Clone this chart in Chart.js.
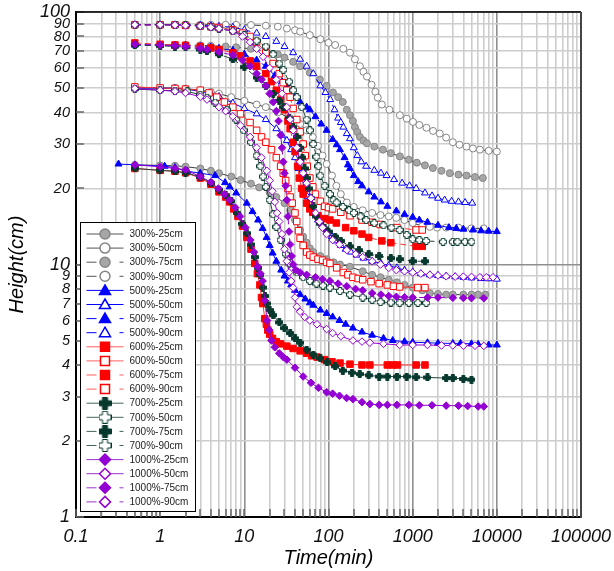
<!DOCTYPE html>
<html lang="en">
<head>
<meta charset="UTF-8">
<title>Height vs Time</title>
<script src="https://cdn.jsdelivr.net/npm/chart.js"></script>
<style>
  html, body { margin: 0; padding: 0; background: #fff; }
  #wrap { width: 614px; height: 571px; }
</style>
</head>
<body>
<div id="wrap"><canvas id="settleChart" width="614" height="571"></canvas></div>
<script>
// each series: [time (min), height (cm)]
const s300_25 = [[0.5,24.8],[1,24.7],[1.5,24.6],[2,24.4],[3,24],[4,23.5],[5,23],[7,22.3],[9,21.6],[12,20.9],[15,20.2],[20,19.3],[24,18.5],[30,17.5],[35,16.4],[40,15],[46,13.7],[50,12.9],[55,12.2],[60,11.6],[66,11.2],[80,10.8],[95,10.5],[115,10.2],[137,10],[180,9.8],[255,9.4],[330,9.1],[415,8.9],[520,8.7],[650,8.5],[800,8.3],[1000,8.1],[1300,7.9],[1600,7.7],[2000,7.65],[2500,7.6],[3000,7.6],[4000,7.6],[5000,7.6],[6000,7.6],[7300,7.6]];
const s300_50 = [[0.5,50],[1,50],[1.5,50],[2,49.7],[3,49],[4,48.3],[5,47.5],[7,46],[10,44.5],[14,43],[18,42],[25,40],[35,38],[46,36],[55,34],[65,32],[75,29.5],[85,27],[95,25],[110,22.5],[124,20.5],[140,19],[165,17.6],[200,16.9],[255,16.4],[330,16],[415,15.7],[520,15.5],[640,15.3],[800,15],[1000,14.6],[1300,14.2],[1600,14.1],[1950,14],[2500,14],[3500,14],[5000,13.9],[7000,13.9]];
const s300_75 = [[0.5,74],[1,74],[1.5,74],[2,74],[3,73.8],[4,73.5],[6,73],[8,72.5],[12,71.5],[18,70],[25,68],[30,66],[38,63.5],[46,61],[60,57.5],[79,54],[95,51],[113,48],[130,46],[148,44],[165,41],[180,39],[195,37],[206,35],[220,33.5],[236,32],[260,31],[286,30.2],[350,29.3],[443,28.5],[550,27.6],[705,26.8],[900,26],[1120,25.3],[1400,24.7],[1740,24.1],[2200,23.5],[2760,23],[3500,22.7],[4370,22.5],[5500,22.2],[6820,22]];
const s300_90 = [[0.5,89],[1,89],[1.5,89],[2,89],[3,89],[4,89],[6,89],[8,89],[12,88.8],[18,88.3],[25,87.5],[32,86],[40,84.7],[46,83.6],[60,81],[80,78],[100,75.5],[120,74],[150,71.5],[180,69],[206,65],[236,61],[260,58],[286,55.5],[325,51.5],[360,48.3],[385,45.8],[430,43],[530,41],[705,39],[850,37.8],[1010,36.7],[1200,35.7],[1460,34.8],[1750,33.8],[2100,33],[2500,31.8],[3000,30.5],[3600,29.8],[4370,29.3],[5200,28.8],[6300,28.5],[8000,28.2],[10000,28]];

const s500_25 = [[0.32,25],[0.5,24.8],[1.13,24.5],[1.5,24.2],[2.1,23.4],[3,23],[4.5,22.5],[5.9,21.1],[6.7,20.3],[8,19.2],[10.7,17.5],[12.5,16.2],[14.6,15],[16.5,13.9],[18.4,12.8],[20,11.9],[21.7,11.1],[24,10.3],[27.4,9.5],[30,9],[33,8.6],[36,8.3],[40,7.9],[46,7.6],[53,7.3],[60,7.05],[66,6.9],[80,6.6],[95,6.4],[112,6.2],[135,6],[160,5.8],[195,5.6],[250,5.4],[330,5.25],[450,5.1],[580,5],[800,4.95],[1000,4.92],[1500,4.9],[2000,4.88],[3000,4.87],[3700,4.87],[5000,4.85],[6000,4.83],[8000,4.8],[10000,4.8]];
const s500_50 = [[0.5,50],[1,50],[1.5,49.8],[2,49.5],[3,48.5],[4,47.5],[5,46.3],[7.3,43.6],[10,41.5],[14,39.5],[18,37.5],[24,34.5],[28,32.5],[32,31],[36,28.5],[40,26.5],[44,24],[48,22],[52,20.3],[56,18.6],[60,17.5],[67,16.2],[75,15],[85,14.2],[95,13.5],[110,12.9],[124,12.4],[140,11.9],[160,11.5],[185,11.2],[215,10.9],[260,10.6],[330,10.3],[420,10.1],[520,9.9],[650,9.7],[800,9.5],[1000,9.35],[1250,9.2],[1600,9.1],[2000,9.05],[2500,9],[3200,8.95],[4000,8.9],[5000,8.85],[6500,8.8],[8000,8.78],[10000,8.75]];
const s500_75 = [[0.5,74],[1,74],[1.5,74],[2,73.8],[3,73],[4,72.5],[5,71.8],[7.3,70.5],[10,68],[14,64.5],[18,61],[23,56],[28,53],[32,50.5],[38,47],[46,44],[55,42],[60,41],[70,38.5],[82,36],[95,34],[112,31.3],[125,29.8],[137,28.5],[155,26.5],[170,24.8],[180,24],[200,22.5],[225,21.3],[250,20.5],[300,19.4],[350,18.5],[420,17.7],[500,17],[640,16.3],[800,15.8],[1000,15.4],[1200,15],[1500,14.7],[2000,14.3],[2700,14],[3300,13.9],[4000,13.8],[5200,13.7],[6500,13.6],[8000,13.55],[10000,13.5]];
const s500_90 = [[0.5,89],[1,89],[1.5,89],[2,88.8],[3,88.5],[4,88.2],[5,87.8],[7.3,87],[10,85],[14,82.5],[18,80],[24,76.5],[30,73],[38,69],[46,65],[55,61],[66,57],[80,51],[92,48],[105,45],[118,41],[130,38],[140,36.5],[150,35],[165,33],[180,31.5],[200,29],[220,27],[245,25.5],[280,24.5],[350,23.6],[420,23],[490,22.5],[600,21.7],[750,21],[920,20.5],[1100,20],[1400,19.2],[1700,18.7],[2000,18.3],[2400,18],[2900,17.8],[3500,17.7],[4200,17.6],[5100,17.5]];

const s600_25 = [[0.5,24],[1,23.6],[1.5,23.4],[2,23.1],[3,22],[4,20.8],[5,19.4],[6,18.5],[6.7,17.7],[7.5,16.6],[8.4,15.5],[9.5,14.2],[10.7,12.8],[12,11.5],[13.3,10.1],[14.3,9.2],[15.3,8.3],[16,7.4],[16.6,7],[17.5,6.1],[18.3,5.8],[19,5.5],[20,5.3],[21.6,5.1],[24,4.95],[27,4.85],[32,4.75],[38,4.65],[46,4.55],[55,4.45],[63,4.35],[73,4.3],[90,4.2],[110,4.12],[137,4.07],[180,4.03],[250,4],[310,4],[500,4],[580,4],[660,4],[1100,4],[1400,4]];
const s600_50 = [[0.5,50.5],[1,50],[1.5,49.8],[2,49.5],[3,49],[3.8,47.8],[4.7,46],[5.8,44],[7.3,42],[9,39.5],[11.7,36.5],[14,34],[16,32],[18,30.5],[21,28.5],[24,26.5],[27,24.5],[29,23],[31,21.5],[33,20],[35,18.5],[37,17.5],[40,16],[42,14.8],[44,13.6],[46,12.7],[50,11.9],[55,11.2],[60,10.9],[66,10.7],[75,10.5],[85,10.4],[95,10.2],[104,10.1],[125,9.7],[150,9.3],[170,9.1],[195,8.9],[225,8.8],[255,8.7],[320,8.55],[400,8.4],[500,8.3],[590,8.2],[700,8.15],[1150,8.1],[1400,8.1]];
const s600_75 = [[0.5,75.4],[1,74.5],[1.5,74],[2,73.8],[3,73],[4,72],[5,71],[7.3,69],[9,67],[11.7,64],[14,61],[18,57],[21,53],[24,49],[27,45],[30,41],[33,37],[35,34.5],[38,30.5],[40,28],[43,24.5],[45,22],[48,20],[50,19],[55,17.5],[60,16.6],[65,16.1],[75,15.6],[90,15.2],[104,15],[124,14.6],[160,14],[200,13.6],[250,13.2],[300,12.8],[430,12.4],[550,12.2],[1100,11.8],[1300,11.8]];
const s600_90 = [[0.5,89],[1,89],[1.5,89],[2,88.5],[3,88],[4,87.5],[5,86.8],[7.3,85],[9.5,82.5],[11.7,80],[14,76],[18,69],[22,62.5],[26,57],[29,52.5],[32,49],[35,46],[38,41.5],[42,37.5],[46,33.5],[50,30],[53,27],[56,24.5],[60,22],[65,20.3],[70,19],[80,17.8],[90,17],[100,16.8],[112,16.6],[140,16.1],[180,15.6],[250,15],[330,14.7],[410,14.4],[650,14],[1100,13.7],[1300,13.7]];

const s700_25 = [[0.5,24],[1,23.6],[1.5,23.4],[2,23.1],[3,22.2],[4,21],[5,19.8],[6,18.8],[7,17.8],[8.1,16],[9.5,14.5],[10.7,13.3],[12,12],[13.3,10.7],[14.5,9.7],[15.5,9.1],[16.6,8.1],[17.6,7.5],[18.5,7],[20,6.6],[22,6.3],[26,5.9],[30,5.6],[35,5.35],[40,5.1],[46,4.9],[55,4.6],[66,4.4],[80,4.25],[96,4.1],[120,3.95],[148,3.8],[190,3.73],[235,3.68],[300,3.64],[400,3.6],[500,3.6],[650,3.6],[850,3.6],[1100,3.58],[1500,3.57],[2500,3.55],[3000,3.55],[4000,3.52],[5000,3.5]];
const s700_50 = [[0.5,49.5],[1,49],[1.5,48.8],[2.1,48.5],[3,47],[3.6,45.8],[4.5,43.8],[6.2,41],[8,37.5],[9.8,34],[12,30.5],[14,27],[15.5,24.5],[16.7,22.3],[18,20.3],[20,18],[22,15.8],[24,14.1],[27,12.5],[31,11],[34,10.1],[37,9.6],[42,9.3],[50,8.9],[60,8.6],[72,8.4],[86,8.25],[104,8.1],[137,7.85],[180,7.6],[255,7.4],[330,7.25],[415,7.1],[550,7.07],[700,7.05],[900,7.05],[1150,7.05],[1450,7.05]];
const s700_75 = [[0.5,74],[1,73.5],[1.5,73],[2,72.5],[3,71],[3.6,70],[5,68],[7.3,65],[10,60.5],[14,55],[18,51],[22,47.5],[26,44.5],[29,42],[34,38],[38,35],[42,32],[46,29],[49,26.5],[52,24],[55,22],[58,20],[62,18.3],[66,17],[72,15.5],[80,14.5],[90,13.9],[100,13.5],[120,12.9],[140,12.4],[180,11.8],[230,11.4],[300,11],[400,10.8],[550,10.6],[700,10.5],[1000,10.3],[1400,10.3]];
const s700_90 = [[0.5,89],[1,89],[1.5,89],[2,88.6],[3,88],[4,87],[5,86],[7.3,84],[10,81],[14,77],[18,73],[22,68],[26,62.5],[29,59],[34,53],[38,49],[42,46],[48,42],[55,37.5],[60,34],[66,30],[72,26.7],[76,24.5],[80,22.5],[90,20.5],[104,19],[115,18],[125,17.6],[148,16.9],[175,16.4],[200,16],[240,15.5],[280,15],[350,14.6],[450,14.3],[560,14],[700,13.7],[850,13.1],[1000,12.6],[1200,12.5],[1450,12.4],[2300,12.3],[3000,12.3],[3400,12.3],[4200,12.3],[5000,12.3]];

const s1000_25 = [[0.5,24.8],[1,24.4],[1.5,24],[2,23.7],[3,22.3],[4,21.2],[4.9,20],[5.8,19],[6.7,18],[7.8,16.8],[8.9,15.5],[10.3,14],[11.8,12.5],[13,11.2],[14.4,9.8],[15.5,9.2],[16.5,8.6],[17.5,7.2],[18.6,6],[19.8,5.5],[21,5],[23,4.7],[26,4.45],[29,4.3],[32,4.2],[40,3.9],[50,3.6],[62,3.4],[76,3.25],[95,3.12],[112,3.08],[135,3.02],[164,2.96],[195,2.93],[250,2.85],[310,2.8],[400,2.78],[500,2.78],[650,2.78],[900,2.78],[1200,2.77],[1700,2.77],[2500,2.76],[3500,2.76],[4500,2.75],[6000,2.74],[7000,2.74]];
const s1000_50 = [[0.5,49.8],[1,49],[1.5,48.5],[2,47.8],[3,46.2],[3.6,45],[5,42],[6,40.5],[7.3,38.6],[9,35.5],[11.7,32],[14,29],[16,26.5],[18.5,23.5],[20,21.5],[21.5,19.5],[23,17.7],[24.5,16],[26,14.8],[28,13.2],[30,11.5],[32,10.3],[34,9.3],[36,8.6],[38,8.1],[40,7.4],[42,6.8],[46,6.5],[52,6.2],[60,6],[73,5.8],[95,5.55],[112,5.35],[140,5.2],[195,5],[250,4.95],[310,4.9],[450,4.85],[700,4.8],[1000,4.8],[1500,4.8],[2200,4.78],[3000,4.78],[4000,4.77],[5500,4.77],[7000,4.76]];
const s1000_75 = [[0.5,74.5],[1,74],[1.5,73.5],[2,73],[3,71.8],[3.6,71],[5,69.5],[7.3,67.5],[9.5,64.5],[11.7,61],[14,57],[16,54],[18,51],[20,47.5],[22,44],[24,40.5],[25.5,37],[27,32.5],[28,29],[29,25.5],[30,23],[31,20.5],[32,18],[33,15.5],[34,13.5],[35,12],[36.5,10.8],[38,10],[41,9.5],[46,9.3],[55,9.1],[70,8.9],[85,8.75],[104,8.6],[130,8.4],[165,8.2],[210,8],[255,7.9],[330,7.7],[420,7.6],[520,7.5],[640,7.45],[800,7.42],[1000,7.4],[1500,7.4],[2000,7.4],[3000,7.38],[4000,7.37],[5000,7.36],[7000,7.35]];
const s1000_90 = [[0.5,89],[1,89],[1.5,88.8],[2,88.5],[3,88],[4,87],[5,86],[7.3,84],[9.5,80],[11.7,76],[14,71.5],[16.7,66.5],[20,60],[24,54],[28,47.5],[32,42],[35,37.5],[38,34],[42,29],[46,25.5],[50,23],[55,21],[62,18.3],[70,16],[78,14.8],[85,14],[95,13.2],[112,12.5],[135,12],[165,11.4],[210,11],[255,10.7],[330,10.3],[415,10],[520,9.7],[640,9.5],[800,9.4],[1000,9.3],[1250,9.2],[1600,9.1],[2000,9.05],[2500,8.98],[3200,8.95],[4000,8.95],[5000,8.93],[6300,8.9],[7500,8.9],[9000,8.9]];

const xDecades = [0.1, 1, 10, 100, 1000, 10000, 100000];
const yTicks = [1, 2, 3, 4, 5, 6, 7, 8, 9, 10, 20, 30, 40, 50, 60, 70, 80, 90, 100];

const FONT = "'Liberation Sans', Arial, sans-serif";

// look per concentration
const styles = {
  '300':  { shape: 'circle',   radius: 3.5, fill: '#a6a6a6', edge: '#858585', line: '#3a3a3a', key: '#555555' },
  '500':  { shape: 'triangle', radius: 4,   fill: '#0000ff', edge: '#0000ff', line: '#0000ff', key: '#0000ff' },
  '600':  { shape: 'rect',     radius: 4.6, fill: '#ff0000', edge: '#ff0000', line: '#ff3030', key: '#ff6060' },
  '700':  { shape: 'plus',     radius: 3.5, fill: '#06382d', edge: '#06382d', line: '#24443e', key: '#46635e' },
  '1000': { shape: 'rectRot',  radius: 3.8, fill: '#9400d3', edge: '#9400d3', line: '#9400d3', key: '#9933cc' }
};

const series = [
  { label: '300%-25cm',  conc: '300',  data: s300_25,  open: false, dashed: false },
  { label: '300%-50cm',  conc: '300',  data: s300_50,  open: true,  dashed: false },
  { label: '300%-75cm',  conc: '300',  data: s300_75,  open: false, dashed: true },
  { label: '300%-90cm',  conc: '300',  data: s300_90,  open: true,  dashed: true },
  { label: '500%-25cm',  conc: '500',  data: s500_25,  open: false, dashed: false },
  { label: '500%-50cm',  conc: '500',  data: s500_50,  open: true,  dashed: false },
  { label: '500%-75cm',  conc: '500',  data: s500_75,  open: false, dashed: true },
  { label: '500%-90cm',  conc: '500',  data: s500_90,  open: true,  dashed: true },
  { label: '600%-25cm',  conc: '600',  data: s600_25,  open: false, dashed: false },
  { label: '600%-50cm',  conc: '600',  data: s600_50,  open: true,  dashed: false },
  { label: '600%-75cm',  conc: '600',  data: s600_75,  open: false, dashed: true },
  { label: '600%-90cm',  conc: '600',  data: s600_90,  open: true,  dashed: true },
  { label: '700%-25cm',  conc: '700',  data: s700_25,  open: false, dashed: false },
  { label: '700%-50cm',  conc: '700',  data: s700_50,  open: true,  dashed: false },
  { label: '700%-75cm',  conc: '700',  data: s700_75,  open: false, dashed: true },
  { label: '700%-90cm',  conc: '700',  data: s700_90,  open: true,  dashed: true },
  { label: '1000%-25cm', conc: '1000', data: s1000_25, open: false, dashed: false },
  { label: '1000%-50cm', conc: '1000', data: s1000_50, open: true,  dashed: false },
  { label: '1000%-75cm', conc: '1000', data: s1000_75, open: false, dashed: true },
  { label: '1000%-90cm', conc: '1000', data: s1000_90, open: true,  dashed: true }
];

// thick plus marker (no built-in one), drawn once onto a small canvas
function plusImage(size, arm, fill, edge) {
  const c = document.createElement('canvas');
  c.width = size; c.height = size;
  const g = c.getContext('2d');
  const m = size / 2, h = arm / 2, e = size / 2 - 0.5;
  g.beginPath();
  g.moveTo(m - h, m - e); g.lineTo(m + h, m - e); g.lineTo(m + h, m - h); g.lineTo(m + e, m - h);
  g.lineTo(m + e, m + h); g.lineTo(m + h, m + h); g.lineTo(m + h, m + e); g.lineTo(m - h, m + e);
  g.lineTo(m - h, m + h); g.lineTo(m - e, m + h); g.lineTo(m - e, m - h); g.lineTo(m - h, m - h);
  g.closePath();
  g.fillStyle = fill; g.fill();
  g.strokeStyle = edge; g.lineWidth = 1; g.stroke();
  return c;
}
const plusFilled = plusImage(8, 3, styles['700'].fill, styles['700'].edge);
const plusOpen = plusImage(8, 3.4, '#ffffff', styles['700'].edge);
const plusFilledBig = plusImage(13, 5, styles['700'].fill, styles['700'].edge);
const plusOpenBig = plusImage(13, 5, '#ffffff', styles['700'].edge);

const isDecade = v => Math.abs(Math.log10(v) - Math.round(Math.log10(v))) < 1e-6;

const xTicks = [];
xDecades.forEach((d, i) => {
  xTicks.push(d);
  if (i < xDecades.length - 1) {
    for (let k = 2; k <= 9; k++) xTicks.push(parseFloat((d * k).toPrecision(6)));
  }
});

const datasets = series.map((s, i) => {
  const st = styles[s.conc];
  let ps = st.shape;
  if (st.shape === 'plus') ps = s.open ? plusOpen : plusFilled;
  return {
    label: s.label,
    data: s.data.map(p => ({ x: p[0], y: p[1] })),
    showLine: true,
    borderColor: st.line,
    borderWidth: 1,
    borderDash: s.dashed ? [6, 4] : [],
    pointStyle: ps,
    pointRadius: st.radius,
    pointBackgroundColor: s.open ? '#ffffff' : st.fill,
    pointBorderColor: st.edge,
    pointBorderWidth: 1,
    order: -i
  };
});

function keyMarker(ctx, s, x, y) {
  const st = styles[s.conc];
  if (st.shape === 'plus') {
    const img = s.open ? plusOpenBig : plusFilledBig;
    ctx.drawImage(img, x - img.width / 2, y - img.height / 2);
    return;
  }
  const r = 5;
  ctx.beginPath();
  if (st.shape === 'circle') {
    ctx.arc(x, y, r, 0, Math.PI * 2);
  } else if (st.shape === 'triangle') {
    ctx.moveTo(x, y - r - 0.5); ctx.lineTo(x + r + 0.5, y + r * 0.8); ctx.lineTo(x - r - 0.5, y + r * 0.8);
    ctx.closePath();
  } else if (st.shape === 'rect') {
    ctx.rect(x - r + 0.5, y - r + 0.5, 2 * r - 1, 2 * r - 1);
  } else {
    ctx.moveTo(x, y - r - 0.5); ctx.lineTo(x + r + 0.5, y); ctx.lineTo(x, y + r + 0.5); ctx.lineTo(x - r - 0.5, y);
    ctx.closePath();
  }
  ctx.fillStyle = s.open ? '#ffffff' : st.fill;
  ctx.fill();
  ctx.lineWidth = 1.5;
  ctx.strokeStyle = st.edge;
  ctx.stroke();
}

const frameAndKey = {
  id: 'frameAndKey',
  afterDatasetsDraw(chart) {
    const { ctx, chartArea: a, scales } = chart;
    ctx.save();
    // short inner tick marks
    ctx.strokeStyle = '#666';
    ctx.lineWidth = 1.5;
    xTicks.forEach(v => {
      const px = Math.round(scales.x.getPixelForValue(v));
      ctx.beginPath(); ctx.moveTo(px, a.bottom); ctx.lineTo(px, a.bottom - 8); ctx.stroke();
    });
    yTicks.forEach(v => {
      const py = Math.round(scales.y.getPixelForValue(v));
      ctx.beginPath(); ctx.moveTo(a.left, py); ctx.lineTo(a.left + 8, py); ctx.stroke();
    });
    // top and right frame
    ctx.strokeStyle = '#000'; ctx.lineWidth = 1.5;
    ctx.beginPath(); ctx.moveTo(a.left, a.top); ctx.lineTo(a.right, a.top); ctx.stroke();
    ctx.strokeStyle = '#444'; ctx.lineWidth = 2;
    ctx.beginPath(); ctx.moveTo(a.right, a.top); ctx.lineTo(a.right, a.bottom + 1); ctx.stroke();

    // legend box
    const bx = a.left + 4.5, by = 222.5, bw = 115, bh = 289;
    ctx.fillStyle = '#fff';
    ctx.fillRect(bx, by, bw, bh);
    ctx.strokeStyle = '#000'; ctx.lineWidth = 1;
    ctx.strokeRect(bx, by, bw, bh);
    ctx.font = '10px ' + FONT;
    ctx.textBaseline = 'middle';
    series.forEach((s, i) => {
      const y = 234 + i * 14.1;
      const st = styles[s.conc];
      ctx.strokeStyle = st.key;
      ctx.lineWidth = 1;
      ctx.beginPath();
      if (s.dashed) {
        ctx.moveTo(bx + 6, y); ctx.lineTo(bx + 16, y);
        ctx.moveTo(bx + 39, y); ctx.lineTo(bx + 43, y);
      } else {
        ctx.moveTo(bx + 6, y); ctx.lineTo(bx + 43, y);
      }
      ctx.stroke();
      keyMarker(ctx, s, bx + 24.5, y);
      ctx.fillStyle = '#222';
      ctx.fillText(s.label, bx + 49, y + 0.5);
    });
    ctx.restore();
  }
};

new Chart(document.getElementById('settleChart'), {
  type: 'scatter',
  data: { datasets: datasets },
  options: {
    responsive: false,
    animation: false,
    devicePixelRatio: 1,
    layout: { padding: { top: 12, right: 33, left: 0, bottom: 0 } },
    plugins: { legend: { display: false }, tooltip: { enabled: false } },
    elements: { line: { tension: 0 } },
    scales: {
      x: {
        type: 'logarithmic',
        min: 0.1,
        max: 100000,
        afterBuildTicks: scale => { scale.ticks = xTicks.map(v => ({ value: v })); },
        afterFit: scale => { scale.height = 54; scale.paddingLeft = 0; scale.paddingRight = 0; },
        ticks: {
          autoSkip: false,
          maxRotation: 0,
          padding: 9,
          color: '#111',
          font: { family: FONT, style: 'italic', size: 18 },
          callback: v => isDecade(v) ? (v < 1 ? '0.1' : String(Math.round(v))) : ''
        },
        grid: {
          drawTicks: false,
          lineWidth: 1.6,
          color: c => (c.tick && isDecade(c.tick.value)) ? '#8f8f8f' : '#cdcdcd'
        },
        border: { display: true, color: '#000', width: 2 },
        title: {
          display: true,
          text: 'Time(min)',
          color: '#000',
          padding: { top: 0, bottom: 1 },
          font: { family: FONT, style: 'italic', size: 20 }
        }
      },
      y: {
        type: 'logarithmic',
        min: 1,
        max: 100,
        afterBuildTicks: scale => { scale.ticks = yTicks.map(v => ({ value: v })); },
        afterFit: scale => { scale.width = 76; scale.paddingTop = 0; scale.paddingBottom = 0; },
        ticks: {
          autoSkip: false,
          padding: 6,
          color: '#111',
          font: c => ({ family: FONT, style: 'italic', size: (c.tick && isDecade(c.tick.value)) ? 18 : 14.5 }),
          callback: v => String(v)
        },
        grid: {
          drawTicks: false,
          lineWidth: 1.6,
          color: c => (c.tick && isDecade(c.tick.value)) ? '#8f8f8f' : '#cdcdcd'
        },
        border: { display: true, color: '#000', width: 2 },
        title: {
          display: true,
          text: 'Height(cm)',
          color: '#000',
          padding: { top: 5, bottom: 0 },
          font: { family: FONT, style: 'italic', size: 20 }
        }
      }
    }
  },
  plugins: [frameAndKey]
});
</script>
</body>
</html>
